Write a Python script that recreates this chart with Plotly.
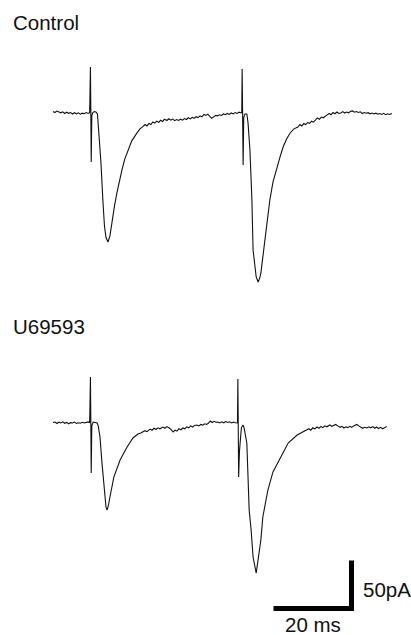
import plotly.graph_objects as go

# ---------------- data (ms, pA) ----------------
control_t = [0, 0.5, 1, 1.5, 2, 2.5, 3, 3.5, 4, 4.5, 5, 5.5, 6, 6.5, 7, 7.5, 8, 8.5, 9, 9.4,
             9.6, 9.7, 9.8, 9.95, 10.2, 10.6, 11.0, 11.4,
             11.8, 12.3, 12.8, 13.2, 13.6, 14.1, 14.6, 15.1, 15.8, 16.4, 17.2, 17.7, 18.4, 19.2,
             20.2, 21.5, 22.3, 23.1,
             23.6, 24.1, 24.6, 25.1, 25.6, 26.1, 26.6, 27.1, 27.6, 28.1, 28.6, 29.2, 29.7, 30.2,
             30.7, 31.2, 31.7, 32.2, 32.7, 33.2, 33.7, 34.2, 34.7, 35.2, 35.7, 36.2, 36.7, 37.2,
             37.7, 38.2, 38.7, 39.2, 39.7, 40.2, 40.7, 41.2, 41.7, 42.2, 42.7, 43.2, 43.7, 44.2,
             44.7, 45.2, 45.7, 46.2, 46.7, 47.2, 47.7, 48.2,
             48.4, 48.5, 48.6, 48.75, 48.9, 49.2, 49.7, 50.0,
             50.5, 51.0, 51.3, 51.8, 52.1, 52.6, 53.0, 53.3, 53.8, 54.4, 55.0, 55.6, 56.4, 57.4,
             58.2, 59.0, 59.9, 60.8, 61.8, 62.8,
             63.3, 63.8, 64.3, 64.8, 65.3, 65.8, 66.3, 66.8, 67.3, 67.8, 68.3, 68.8, 69.3, 69.8,
             70.3, 70.8, 71.3, 71.8, 72.3, 72.8, 73.3, 73.8, 74.3, 74.8, 75.3, 75.8, 76.3, 76.8,
             77.3, 77.8, 78.3, 78.8, 79.3, 79.8, 80.3, 80.8, 81.3, 81.8, 82.3, 82.8, 83.3, 83.8,
             84.3, 84.8, 85.3, 85.8, 86.3, 86.9]
control_pA = [1.5, 0.5, 2.0, 1.0, 0.2, 1.2, -0.5, 0.8, -0.3, 0.5, -1.0, 0.3, -0.8, 0.2, -1.2, -0.2, -0.8, 0.4, -0.5, 0.3,
              47.9, 0.0, -51.0, -3.0, 0.5, 1.5, 1.0, -1.0,
              -20, -52, -92, -118, -130, -134.4, -128, -113, -96, -83, -67, -59, -48, -38.5,
              -29, -21, -16.5, -14,
              -12.0, -13.5, -11.0, -12.0, -9.4, -10.5, -8.5, -9.8, -7.5, -8.8, -6.5, -7.8, -6.0, -7.5,
              -6.3, -8.0, -6.8, -7.8, -6.5, -7.5, -5.8, -6.8, -5.0, -6.2, -4.5, -5.5, -3.8, -4.8,
              -3.0, -4.0, -1.5, -2.5, -1.2, -3.5, -5.5, -4.0, -2.5, -3.0, -1.8, -2.5, -1.0, -1.8,
              -0.5, -1.5, 0.0, -1.0, 0.5, -0.5, 0.8, 0.0,
              0.5, 45.8, -1.0, -54.2, -5.0, -1.0, -1.0, -10,
              -38.5, -90.6, -142.7, -163, -170.8, -176.0, -172, -166.7, -150, -129.2, -110, -90.6, -72, -56.3,
              -46, -35.4, -27, -20.8, -16.5, -14.6,
              -12.0, -13.5, -11.0, -12.0, -10.0, -10.8, -8.5, -9.5, -6.8, -5.2, -6.5, -4.2, -5.0, -3.0,
              -2.0, -0.5, -1.8, 0.5, -0.8, 1.0, -0.5, 0.0, 1.5, 0.0, 1.0, 0.2, 1.8, 2.2,
              0.8, 1.5, 0.5, 1.2, -0.5, 0.5, -0.3, 0.3, -0.8, 0.0, -1.0, -0.2, -1.2, -0.5,
              -1.5, -0.3, -1.8, -0.8, -1.5, -0.5]

u69593_t = [0, 0.5, 1, 1.5, 2, 2.5, 3, 3.5, 4, 4.5, 5, 5.5, 6, 6.5, 7, 7.5, 8, 8.5, 9, 9.4,
            9.6, 9.7, 9.8, 9.95, 10.3, 10.8, 11.3, 11.6,
            12.05, 12.56, 13.08, 13.59, 13.85, 14.2, 14.6, 15.6, 17.2, 19.0, 20.5, 21.8,
            22.5, 23.1, 23.6, 24.1, 24.9, 25.4, 25.9, 26.4, 26.9, 27.4, 28.2, 28.7, 29.2, 29.7,
            30.2, 30.8, 31.3, 31.8, 32.3, 32.8, 33.3, 33.8, 34.3, 34.8, 35.3, 35.8, 36.3, 36.9,
            37.4, 37.9, 38.4, 38.9, 39.4, 39.9, 40.3, 40.8, 41.3, 41.8, 42.3, 42.8, 43.3, 43.8,
            44.3, 44.8, 45.3, 45.8, 46.3, 46.8, 47.2,
            47.3, 47.4, 47.5, 47.6, 47.8, 48.0, 48.3, 48.7, 49.0,
            49.7, 50.0, 50.3, 50.8, 51.3, 52.1, 52.6, 53.3, 53.8, 55.1, 56.4, 58.2, 60.3, 62.6, 65.1,
            65.6, 66.1, 66.6, 67.1, 67.7, 68.2, 68.7, 69.2, 69.7, 70.2, 71.0, 71.5, 72.0, 72.5,
            73.0, 73.6, 74.1, 74.6, 75.1, 75.6, 76.1, 76.6, 77.1, 77.9, 78.4, 78.9, 79.4, 79.9,
            80.5, 81.0, 81.5, 82.0, 82.5, 83.0, 83.5, 84.0, 84.5, 85.0, 85.6]
u69593_pA = [0.5, 1.0, -0.5, 0.8, 0.0, 1.2, -0.3, 0.6, -0.8, 0.4, 0.0, 1.0, -0.5, 0.3, -0.2, 0.8, 0.0, 0.5, 1.2, 0.2,
             47.9, 0.0, -52.1, -3.0, 1.0, 0.5, 0.0, -3.0,
             -14.6, -41.7, -69.8, -87.5, -90.6, -86, -77.1, -56.3, -38.5, -25, -15.6, -11.5,
             -10.5, -9.4, -8.0, -9.0, -6.3, -7.5, -5.5, -6.8, -5.0, -6.0, -4.2, -5.5, -3.8, -5.0,
             -6.5, -9.4, -7.5, -8.5, -6.0, -7.0, -5.2, -6.0, -4.0, -5.0, -3.0, -4.2, -2.5, -2.1,
             -3.0, -1.5, -2.2, -0.8, -1.5, 0.0, 2.1, 0.5, 1.8, 0.8, 1.0, 0.0, 1.2, 0.2,
             1.5, 0.5, 1.2, 0.0, 1.0, 0.2, -0.5,
             0.0, 45.8, -2.0, -56.3, -30, -15, -5, -2.1, -5,
             -20.8, -59.4, -90.6, -111.5, -139.6, -156.3, -142.7, -121.9, -97.9, -69.8, -51, -36.5, -20.8, -12.5, -7.3,
             -6.0, -7.5, -5.0, -6.2, -4.2, -5.5, -3.5, -4.8, -3.0, -4.0, -2.1, -3.5, -2.5, -1.5,
             -3.0, -4.5, -3.5, -5.2, -4.0, -4.8, -3.5, -4.5, -3.0, -1.5, -3.0, -4.5, -5.5, -4.5,
             -5.2, -4.0, -5.0, -3.8, -5.5, -4.2, -5.8, -4.5, -6.0, -5.0, -3.5]

panel_labels = ["Control", "U69593"]
scale_time_ms = 20
scale_current_pA = 50

# ---------------- layout geometry ----------------
W, H = 411, 635
PX_PER_MS = 3.9
PX_PER_PA = 0.96
T0_PX = 53                 # pixel x of t = 0
BASE_CTRL_PX = 113         # pixel y of control baseline
BASE_U_PX = 423            # pixel y of U69593 baseline

x_range = [(0 - T0_PX) / PX_PER_MS, (W - T0_PX) / PX_PER_MS]
y1_range = [(BASE_CTRL_PX - H) / PX_PER_PA, BASE_CTRL_PX / PX_PER_PA]
y2_range = [(BASE_U_PX - H) / PX_PER_PA, BASE_U_PX / PX_PER_PA]

line_style = dict(color="#111111", width=1.1)

fig = go.Figure()
fig.add_trace(go.Scatter(x=control_t, y=control_pA, mode="lines", line=line_style,
                         yaxis="y", hoverinfo="skip", showlegend=False))
fig.add_trace(go.Scatter(x=u69593_t, y=u69593_pA, mode="lines", line=line_style,
                         yaxis="y2", hoverinfo="skip", showlegend=False))

# scale bar (drawn in the lower panel's data coordinates)
corner_t = (351.5 - T0_PX) / PX_PER_MS
corner_i = (BASE_U_PX - 608.5) / PX_PER_PA
path = (f"M {corner_t - scale_time_ms} {corner_i} "
        f"L {corner_t} {corner_i} "
        f"L {corner_t} {corner_i + scale_current_pA}")
fig.add_shape(type="path", path=path, xref="x", yref="y2",
              line=dict(color="black", width=5))

font = dict(family="Liberation Sans, Arial, sans-serif", size=20.5, color="#111111")


def px2paper(px, py):
    return px / W, 1 - py / H


for label, (px, py) in zip(panel_labels, [(11, 22), (11, 326)]):
    xp, yp = px2paper(px, py)
    fig.add_annotation(x=xp, y=yp, xref="paper", yref="paper", text=label,
                       showarrow=False, xanchor="left", yanchor="middle", font=font)

xp, yp = px2paper(360.5, 589)
fig.add_annotation(x=xp, y=yp, xref="paper", yref="paper", text=f"{scale_current_pA}pA",
                   showarrow=False, xanchor="left", yanchor="middle", font=font)
xp, yp = px2paper(312.5, 624)
fig.add_annotation(x=xp, y=yp, xref="paper", yref="paper", text=f"{scale_time_ms} ms",
                   showarrow=False, xanchor="center", yanchor="middle", font=font)

axis_off = dict(visible=False, showgrid=False, zeroline=False, fixedrange=True)
fig.update_layout(
    width=W, height=H,
    margin=dict(l=0, r=0, t=0, b=0),
    paper_bgcolor="white", plot_bgcolor="white",
    xaxis=dict(range=x_range, domain=[0, 1], **axis_off),
    yaxis=dict(range=y1_range, domain=[0, 1], **axis_off),
    yaxis2=dict(range=y2_range, domain=[0, 1], overlaying="y", anchor="x", **axis_off),
)

# let the figure fill the window exactly (no default page margin, no scrollbars)
fig.write_html("out.html",
               config=dict(displayModeBar=False, staticPlot=True),
               post_script="document.body.style.margin='0';"
                           "document.documentElement.style.overflow='hidden';"
                           "document.body.style.overflow='hidden';")
